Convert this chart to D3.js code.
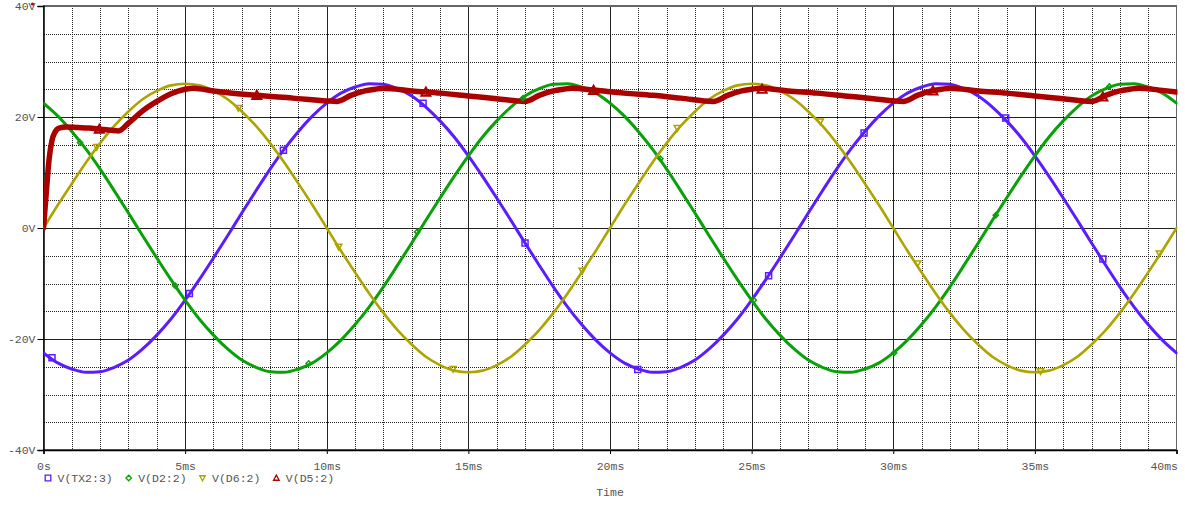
<html>
<head>
    <meta content="text/html;charset=utf-8" http-equiv="Content-Type"/>
    <style>
        body { margin: 0; background: #fff; }
        text { font-family: "Liberation Mono", "DejaVu Sans Mono", monospace; font-size: 11.5px; fill: #555; }
    </style>
</head>
<body>

<svg width="1185" height="505">
    <g id="grid"></g>
    <g id="axes"></g>
    <g id="traces"></g>
    <g id="marks"></g>
    <g id="legend"></g>
</svg>

<script src="https://d3js.org/d3.v7.min.js"></script>
<script>
    // sample times (ms)
    const times = [0,0.5,1,1.5,2,2.5,3,3.5,4,4.5,5,5.5,6,6.5,7,7.5,8,8.5,9,9.5,
        10,10.5,11,11.5,12,12.5,13,13.5,14,14.5,15,15.5,16,16.5,17,17.5,18,18.5,19,19.5,
        20,20.5,21,21.5,22,22.5,23,23.5,24,24.5,25,25.5,26,26.5,27,27.5,28,28.5,29,29.5,
        30,30.5,31,31.5,32,32.5,33,33.5,34,34.5,35,35.5,36,36.5,37,37.5,38,38.5,39,39.5,40];

    // V(TX2:3)
    const v_tx2 = [-22.5,-24.3,-25.4,-26.0,-25.9,-25.1,-23.8,-21.8,-19.3,-16.4,-13.0,-9.3,-5.4,-1.4,2.7,6.7,10.6,14.2,17.4,20.2,
        22.5,24.3,25.4,26.0,25.9,25.1,23.8,21.8,19.3,16.4,13.0,9.3,5.4,1.4,-2.7,-6.7,-10.6,-14.2,-17.4,-20.2,
        -22.5,-24.3,-25.4,-26.0,-25.9,-25.1,-23.8,-21.8,-19.3,-16.4,-13.0,-9.3,-5.4,-1.4,2.7,6.7,10.6,14.2,17.4,20.2,
        22.5,24.3,25.4,26.0,25.9,25.1,23.8,21.8,19.3,16.4,13.0,9.3,5.4,1.4,-2.7,-6.7,-10.6,-14.2,-17.4,-20.2,-22.5];

    // V(D2:2)
    const v_d2 = [22.5,20.2,17.4,14.2,10.6,6.7,2.7,-1.4,-5.4,-9.3,-13.0,-16.4,-19.3,-21.8,-23.8,-25.1,-25.9,-26.0,-25.4,-24.3,
        -22.5,-20.2,-17.4,-14.2,-10.6,-6.7,-2.7,1.4,5.4,9.3,13.0,16.4,19.3,21.8,23.8,25.1,25.9,26.0,25.4,24.3,
        22.5,20.2,17.4,14.2,10.6,6.7,2.7,-1.4,-5.4,-9.3,-13.0,-16.4,-19.3,-21.8,-23.8,-25.1,-25.9,-26.0,-25.4,-24.3,
        -22.5,-20.2,-17.4,-14.2,-10.6,-6.7,-2.7,1.4,5.4,9.3,13.0,16.4,19.3,21.8,23.8,25.1,25.9,26.0,25.4,24.3,22.5];

    // V(D6:2)
    const v_d6 = [0,4.1,8.0,11.8,15.3,18.4,21.0,23.2,24.7,25.7,26.0,25.7,24.7,23.2,21.0,18.4,15.3,11.8,8.0,4.1,
        0,-4.1,-8.0,-11.8,-15.3,-18.4,-21.0,-23.2,-24.7,-25.7,-26.0,-25.7,-24.7,-23.2,-21.0,-18.4,-15.3,-11.8,-8.0,-4.1,
        0,4.1,8.0,11.8,15.3,18.4,21.0,23.2,24.7,25.7,26.0,25.7,24.7,23.2,21.0,18.4,15.3,11.8,8.0,4.1,
        0,-4.1,-8.0,-11.8,-15.3,-18.4,-21.0,-23.2,-24.7,-25.7,-26.0,-25.7,-24.7,-23.2,-21.0,-18.4,-15.3,-11.8,-8.0,-4.1,0];

    // V(D5:2), own time base because of the fast start
    const d5_times = [0,0.1,0.2,0.3,0.4,0.55,0.8,1.2,1.6,2.0,2.4,2.65,3.0,3.5,4.0,4.5,5.0,5.3,
        6.0,7.5,8.8,10.0,10.35,10.85,11.35,11.7,12.0,13.0,14.0,15.0,16.0,17.0,17.5,18.0,18.35,18.65,
        19.5,20.5,21.5,22.5,23.65,24.15,24.65,25.0,25.3,26.3,27.3,28.3,29.3,30.35,30.85,31.35,31.7,32.0,
        33.0,34.0,35.0,36.0,37.0,37.5,38.0,38.35,38.65,39.5,40.0];
    const v_d5 = [0,6.5,12.5,15.8,17.2,18.0,18.2,18.1,18.0,17.8,17.6,17.5,18.9,21.1,22.8,24.2,25.0,25.2,
        24.7,23.9,23.4,22.9,22.8,23.9,24.7,25.0,25.2,24.7,24.3,23.8,23.3,22.8,23.9,24.7,25.0,25.2,
        24.8,24.3,23.9,23.4,22.8,23.9,24.7,25.0,25.2,24.7,24.3,23.8,23.3,22.8,23.9,24.7,25.0,25.2,
        24.7,24.3,23.8,23.3,22.8,23.9,24.7,25.0,25.2,24.8,24.5];

    // symbol positions along each trace [ms, V]
    const mk_tx2 = [[0.3,-23.4],[5.15,-11.8],[8.47,14.0],[13.4,22.5],[17.0,-2.7],[20.98,-25.5],[25.6,-8.6],[28.97,17.1],[33.97,19.8],[37.4,-5.6]];
    const mk_d2 = [[1.29,15.4],[4.65,-10.4],[9.36,-24.4],[13.19,-0.7],[16.93,23.4],[21.78,12.5],[25.08,-13.0],[30.03,-22.5],[33.62,2.3],[37.63,25.5]];
    const mk_d6 = [[1.88,14.6],[6.88,21.6],[10.42,-3.4],[14.46,-25.4],[19.02,-7.7],[22.38,18.0],[27.42,19.2],[30.86,-6.4],[35.2,-25.8],[39.4,-4.6]];
    const mk_d5 = [[1.97,17.8],[7.53,23.9],[13.5,24.5],[19.42,24.8],[25.37,25.0],[31.4,24.7],[37.4,23.6]];

    const names = ["V(TX2:3)", "V(D2:2)", "V(D6:2)", "V(D5:2)"];
    const colors = ["#5b1cff", "#0aa00a", "#aea400", "#aa0000"];
    const shapes = ["square", "diamond", "down", "up"];

    const x_ticks = [0,5,10,15,20,25,30,35,40];
    const y_ticks = [-40,-20,0,20,40];
    const x_minor = [1,2,3,4,6,7,8,9,11,12,13,14,16,17,18,19,21,22,23,24,26,27,28,29,31,32,33,34,36,37,38,39];
    const y_minor = [-35,-30,-25,-15,-10,-5,5,10,15,25,30,35];

    const x = d3.scaleLinear().domain([0, 40]).range([43.5, 1176.5]);
    const y = d3.scaleLinear().domain([-40, 40]).range([450, 6]);

    const svg = d3.select('svg');

    // grid
    let grid = svg.select('#grid').attr('shape-rendering', 'crispEdges');
    grid.selectAll('line.vm').data(x_minor).enter().append('line')
        .attr('x1', d => Math.round(x(d)) + 0.5).attr('x2', d => Math.round(x(d)) + 0.5)
        .attr('y1', y(40)).attr('y2', y(-40))
        .attr('style', 'stroke:#222;stroke-width:1;stroke-dasharray:1,1');
    grid.selectAll('line.hm').data(y_minor).enter().append('line')
        .attr('x1', x(0)).attr('x2', x(40))
        .attr('y1', d => Math.round(y(d)) + 0.5).attr('y2', d => Math.round(y(d)) + 0.5)
        .attr('style', 'stroke:#222;stroke-width:1;stroke-dasharray:1,1');
    grid.selectAll('line.vM').data(x_ticks.slice(1, -1)).enter().append('line')
        .attr('x1', d => Math.round(x(d)) + 0.5).attr('x2', d => Math.round(x(d)) + 0.5)
        .attr('y1', y(40)).attr('y2', y(-40))
        .attr('style', 'stroke:#222;stroke-width:1');
    grid.selectAll('line.hM').data(y_ticks.slice(1, -1)).enter().append('line')
        .attr('x1', x(0)).attr('x2', x(40))
        .attr('y1', d => Math.round(y(d)) + 0.5).attr('y2', d => Math.round(y(d)) + 0.5)
        .attr('style', 'stroke:#222;stroke-width:1');
    grid.append('rect')
        .attr('x', x(0)).attr('y', y(40))
        .attr('width', x(40) - x(0)).attr('height', y(-40) - y(40))
        .attr('style', 'fill:none;stroke:#666;stroke-width:1.5');

    // axes
    let axes = svg.select('#axes');
    let yAxis = axes.append('g').attr('transform', `translate(${x(0)},0)`)
        .call(d3.axisLeft(y).tickValues(y_ticks).tickSize(6).tickPadding(2).tickFormat(d => `${d}V`));
    let xAxis = axes.append('g').attr('transform', `translate(0,${y(-40)})`)
        .call(d3.axisBottom(x).tickValues(x_ticks).tickSize(4).tickPadding(8).tickFormat(d => d === 0 ? '0s' : `${d}ms`));
    axes.selectAll('.domain').attr('stroke', '#000').attr('stroke-width', 1.5);
    axes.selectAll('.tick line').attr('stroke', '#000');
    axes.selectAll('.tick text').attr('fill', '#555').attr('font-family', '"Liberation Mono", monospace').attr('font-size', 11.5);
    xAxis.selectAll('.tick').filter(d => d === 40).select('text').attr('text-anchor', 'end').attr('x', 1);

    axes.append('text').attr('x', (x(0) + x(40)) / 2).attr('y', 496).attr('text-anchor', 'middle').text('Time');
    axes.append('circle').attr('cx', x(0) - 11).attr('cy', y(40) - 2).attr('r', 1.6).attr('fill', '#c00000');

    // traces
    svg.append('clipPath').attr('id', 'plot').append('rect')
        .attr('x', x(0)).attr('y', y(40) - 2).attr('width', x(40) - x(0) + 1).attr('height', y(-40) - y(40) + 4);
    let traces = svg.select('#traces').attr('clip-path', 'url(#plot)');
    const line = d3.line().x(d => x(d[0])).y(d => y(d[1])).curve(d3.curveMonotoneX);
    const series = [
        times.map((t, i) => [t, v_tx2[i]]),
        times.map((t, i) => [t, v_d2[i]]),
        times.map((t, i) => [t, v_d6[i]]),
        d5_times.map((t, i) => [t, v_d5[i]])
    ];
    const widths = [3, 3, 2.6, 5.5];
    traces.selectAll('path').data(series).enter().append('path')
        .attr('d', line)
        .attr('fill', 'none')
        .attr('stroke', (d, i) => colors[i])
        .attr('stroke-width', (d, i) => widths[i])
        .attr('stroke-linejoin', 'round')
        .attr('stroke-linecap', 'round');

    function symbol(shape, s) {
        if (shape === 'square') return `M${-s},${-s}H${s}V${s}H${-s}Z`;
        if (shape === 'diamond') return `M0,${-s}L${s},0L0,${s}L${-s},0Z`;
        if (shape === 'down') return `M${-s},${-s * 0.8}H${s}L0,${s}Z`;
        return `M${-s},${s * 0.8}H${s}L0,${-s}Z`;
    }

    const mks = [mk_tx2, mk_d2, mk_d6, mk_d5];
    const mk_size = [3, 2.6, 3.2, 4.5];
    const mk_width = [1.5, 1.5, 1.5, 2];
    let marks = svg.select('#marks');
    mks.forEach((pts, i) => {
        marks.append('g').selectAll('path').data(pts).enter().append('path')
            .attr('transform', d => `translate(${x(d[0])},${y(d[1])})`)
            .attr('d', symbol(shapes[i], mk_size[i]))
            .attr('fill', 'none')
            .attr('stroke', colors[i])
            .attr('stroke-width', mk_width[i]);
    });

    // legend
    let legend = svg.select('#legend');
    let lx = 48;
    names.forEach((name, i) => {
        legend.append('path')
            .attr('transform', `translate(${lx},478)`)
            .attr('d', symbol(shapes[i], 2.8))
            .attr('fill', 'none')
            .attr('stroke', colors[i])
            .attr('stroke-width', 1.3);
        let t = legend.append('text').attr('x', lx + 9.5).attr('y', 482).text(name);
        lx += 9.5 + t.node().getComputedTextLength() + 16;
    });
</script>

</body>
</html>
